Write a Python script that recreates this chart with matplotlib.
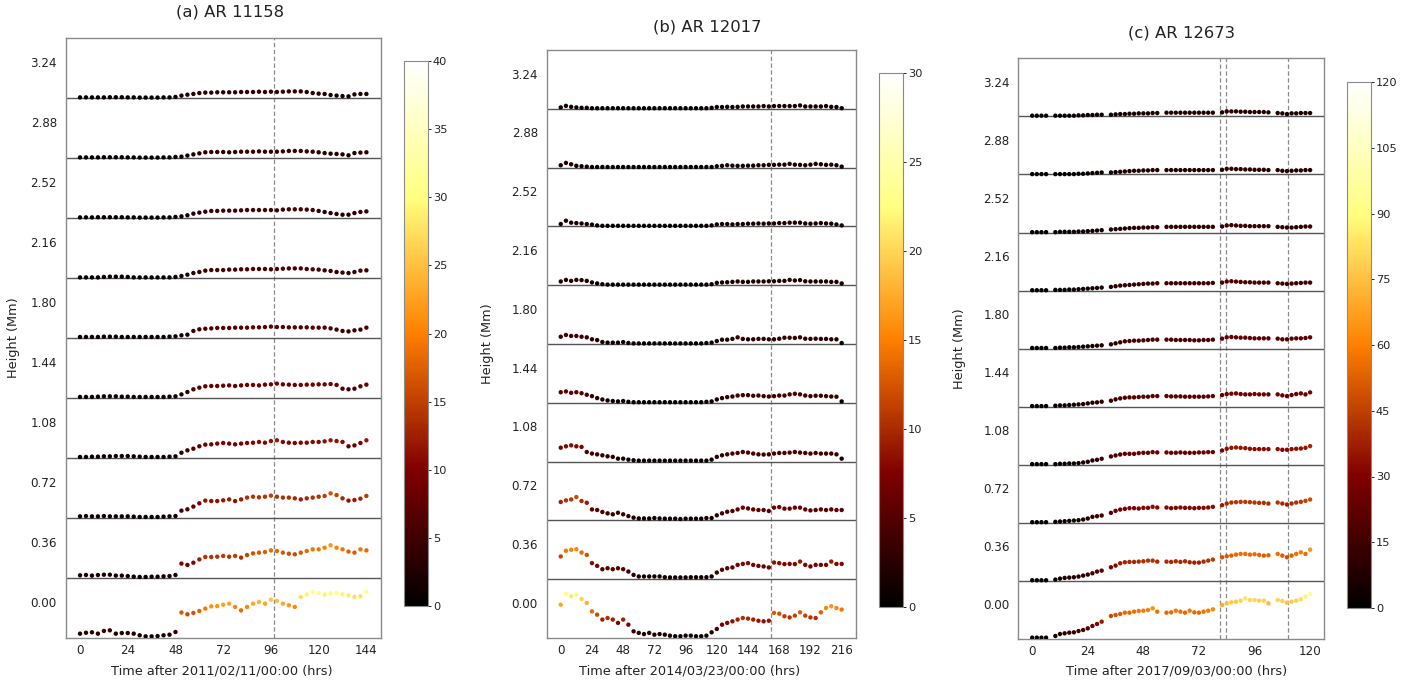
import numpy as np
import matplotlib
matplotlib.use("Agg")
import matplotlib.pyplot as plt

nan = np.nan

# ---------------------------------------------------------------------------
# Data: one series per height level (bottom level first), values in the
# colour-bar units of each region.
# ---------------------------------------------------------------------------
heights = [0.00, 0.36, 0.72, 1.08, 1.44, 1.80, 2.16, 2.52, 2.88, 3.24]
height_labels = [f"{h:.2f}" for h in heights]

# ---- AR 11158 (every 3 h) ----
time_a = list(range(0, 145, 3))
ar11158 = [
    [2.9, 3.5, 3.8, 2.9, 4.7, 5.1, 2.9, 3.3, 3.3, 2.9, 1.8, 1.1, 1.1, 1.3, 1.8, 2.2, 4.0,
     17.0, 15.8, 16.7, 18.0, 19.6, 21.1, 21.3, 22.2, 22.9, 20.7, 18.4, 20.7, 22.9, 24.0, 22.9,
     25.6, 24.7, 22.9, 21.8, 20.7, 27.3, 29.1, 30.7, 30.0, 28.9, 29.6, 30.0, 29.1, 28.4, 27.3,
     27.8, 30.7],
    [1.8, 2.0, 1.6, 2.0, 2.2, 2.2, 1.6, 1.6, 1.3, 0.9, 0.7, 0.7, 0.9, 0.9, 1.1, 1.3, 2.0,
     9.6, 8.7, 10.2, 12.4, 14.0, 14.0, 14.2, 14.7, 14.2, 14.7, 13.6, 15.3, 16.4, 16.9, 17.3,
     18.4, 18.0, 16.9, 16.2, 15.8, 16.9, 18.0, 19.1, 19.1, 20.2, 21.8, 20.2, 19.1, 17.6, 16.9,
     19.1, 18.4],
    [1.1, 1.3, 1.1, 1.1, 1.3, 1.1, 1.1, 1.1, 1.1, 0.9, 0.7, 0.7, 0.7, 0.7, 0.9, 1.1, 1.3,
     4.9, 5.8, 7.6, 9.8, 11.6, 11.3, 11.3, 11.8, 12.4, 11.3, 12.4, 13.6, 14.2, 13.8, 14.2,
     14.9, 14.2, 13.6, 13.6, 13.1, 12.4, 13.1, 13.6, 14.2, 14.7, 16.4, 15.3, 13.1, 11.6, 12.0,
     12.9, 14.7],
    [0.7, 0.7, 0.9, 0.9, 1.1, 1.1, 1.3, 1.3, 1.3, 1.1, 0.9, 0.7, 0.7, 0.7, 0.7, 0.9, 1.1,
     3.5, 5.1, 6.2, 7.8, 8.9, 9.1, 9.6, 10.0, 9.6, 9.1, 9.6, 10.0, 10.2, 10.7, 10.2,
     11.3, 11.8, 10.7, 10.2, 10.0, 10.2, 10.2, 10.7, 10.7, 11.1, 11.8, 11.3, 10.7, 7.8, 8.4,
     10.0, 11.8],
    [0.7, 0.7, 0.7, 0.9, 1.1, 1.1, 1.1, 0.9, 0.9, 0.7, 0.7, 0.7, 0.7, 0.7, 0.7, 0.9, 1.1,
     2.4, 4.0, 5.8, 6.9, 7.8, 8.0, 8.0, 8.2, 8.4, 8.0, 8.4, 8.7, 8.7, 8.4, 8.9,
     9.1, 9.6, 9.1, 8.9, 8.7, 8.7, 8.9, 8.9, 9.1, 9.1, 9.3, 8.7, 6.2, 5.8, 6.2,
     7.8, 8.9],
    [0.7, 0.7, 0.7, 0.7, 0.9, 0.9, 0.9, 0.7, 0.7, 0.7, 0.7, 0.7, 0.7, 0.7, 0.7, 0.9, 1.1,
     1.8, 2.2, 4.7, 5.8, 6.2, 6.4, 6.7, 6.7, 6.7, 6.9, 6.9, 6.9, 7.1, 7.1, 7.3,
     7.6, 7.3, 7.3, 7.1, 7.1, 7.1, 7.1, 6.9, 6.9, 6.9, 6.4, 5.6, 4.7, 4.4, 5.1,
     5.6, 6.9],
    [0.4, 0.4, 0.4, 0.4, 0.7, 0.9, 0.9, 0.9, 0.7, 0.4, 0.4, 0.4, 0.4, 0.4, 0.4, 0.4, 0.7,
     1.3, 2.2, 3.3, 4.0, 4.9, 5.3, 5.3, 5.3, 5.6, 5.6, 5.8, 5.8, 6.0, 6.0, 6.0,
     5.8, 6.0, 6.2, 6.4, 6.4, 6.4, 6.0, 5.8, 5.6, 5.1, 4.7, 4.0, 3.6, 3.3, 4.0,
     4.9, 5.1],
    [0.4, 0.4, 0.4, 0.5, 0.5, 0.5, 0.5, 0.5, 0.4, 0.4, 0.3, 0.3, 0.3, 0.3, 0.4, 0.4, 0.7,
     1.1, 1.8, 2.9, 3.6, 4.2, 4.7, 4.7, 4.9, 4.9, 4.9, 5.1, 5.3, 5.3, 5.3, 5.3,
     5.3, 5.1, 5.6, 5.8, 5.8, 5.8, 5.6, 5.3, 4.7, 4.0, 3.3, 2.7, 2.2, 2.2, 3.3,
     4.0, 4.4],
    [0.4, 0.4, 0.4, 0.4, 0.5, 0.5, 0.5, 0.5, 0.4, 0.4, 0.3, 0.3, 0.3, 0.3, 0.4, 0.4, 0.7,
     0.9, 1.6, 2.4, 3.1, 3.8, 4.0, 4.0, 4.0, 3.8, 4.0, 4.2, 4.2, 4.2, 4.4, 4.2,
     4.2, 4.2, 4.4, 4.7, 4.7, 4.7, 4.4, 4.2, 3.8, 3.3, 2.9, 2.7, 2.4, 1.8, 3.3,
     3.6, 3.8],
    [0.4, 0.4, 0.4, 0.4, 0.4, 0.5, 0.5, 0.5, 0.4, 0.4, 0.3, 0.3, 0.3, 0.3, 0.4, 0.4, 0.7,
     1.6, 2.2, 2.7, 3.3, 3.6, 3.6, 3.8, 3.8, 3.8, 3.8, 4.0, 4.0, 4.0, 4.2, 4.0,
     4.2, 4.0, 4.2, 4.4, 4.4, 4.4, 4.0, 3.3, 2.9, 2.7, 2.0, 1.6, 1.3, 1.1, 2.4,
     2.7, 2.7],
]

# ---- AR 12017 (every 4 h) ----
time_b = list(range(0, 217, 4))
ar12017 = [
    [17.0, 22.6, 21.3, 22.1, 19.9, 17.9, 13.6, 11.9, 9.4, 10.2,
     9.4, 7.7, 9.4, 6.8, 3.4, 2.6, 2.0, 2.6, 1.7, 2.0,
     1.7, 1.2, 0.9, 0.9, 1.2, 1.2, 0.9, 0.9, 1.2, 2.9,
     4.6, 6.8, 7.7, 8.5, 9.4, 10.2, 9.9, 9.4, 8.8, 8.5,
     8.8, 12.8, 12.4, 11.1, 10.5, 11.4, 13.1, 11.4, 10.5, 10.2,
     13.1, 15.3, 16.2, 15.3, 14.5],
    [11.6, 14.5, 15.0, 15.3, 13.6, 12.4, 8.2, 6.8, 5.1, 5.6,
     5.1, 5.6, 5.1, 3.9, 2.2, 1.4, 1.4, 1.4, 1.4, 1.4,
     1.0, 0.9, 0.9, 0.9, 0.9, 1.0, 1.0, 1.0, 1.0, 1.4,
     3.4, 4.8, 5.6, 6.0, 7.3, 7.8, 8.2, 7.3, 6.8, 6.5,
     6.0, 8.5, 8.2, 7.7, 7.8, 7.7, 9.0, 7.3, 6.5, 7.3,
     7.3, 7.3, 9.0, 7.8, 7.8],
    [9.4, 10.2, 10.7, 11.9, 9.9, 9.0, 5.6, 5.3, 4.3, 3.6,
     3.1, 3.9, 3.1, 2.2, 1.4, 1.0, 1.0, 1.0, 1.2, 1.0,
     0.9, 0.9, 0.9, 0.7, 0.9, 0.9, 0.9, 0.9, 1.2, 1.2,
     2.6, 3.6, 4.4, 4.8, 5.6, 6.5, 6.1, 5.6, 5.3, 5.3,
     4.8, 6.5, 6.8, 6.0, 6.0, 6.5, 6.5, 5.6, 5.1, 5.3,
     5.6, 5.3, 5.6, 5.3, 5.3],
    [7.1, 7.8, 8.3, 7.8, 7.5, 4.9, 4.1, 3.7, 3.2, 2.7,
     2.4, 1.5, 1.5, 1.0, 0.7, 0.5, 0.5, 0.5, 0.5, 0.5,
     0.5, 0.5, 0.5, 0.5, 0.5, 0.5, 0.5, 0.5, 0.5, 1.0,
     2.4, 3.2, 3.7, 4.1, 4.4, 4.9, 4.6, 4.1, 3.7, 3.6,
     3.7, 4.1, 4.4, 4.4, 4.6, 4.9, 4.6, 4.4, 4.1, 4.4,
     4.1, 4.1, 4.1, 3.7, 1.5],
    [5.4, 5.8, 5.1, 5.4, 4.9, 4.1, 3.4, 2.4, 1.7, 1.2,
     0.9, 0.7, 0.9, 0.5, 0.3, 0.3, 0.3, 0.3, 0.3, 0.3,
     0.3, 0.3, 0.3, 0.3, 0.3, 0.3, 0.3, 0.3, 0.5, 0.7,
     1.7, 2.4, 2.9, 3.2, 3.7, 3.9, 3.9, 3.6, 3.7, 3.4,
     3.2, 3.4, 3.7, 3.7, 4.3, 4.6, 4.3, 3.7, 3.4, 3.6,
     3.6, 3.4, 3.2, 3.1, 0.7],
    [3.7, 4.6, 4.1, 4.1, 3.7, 3.4, 2.4, 2.0, 1.0, 0.7,
     0.7, 0.7, 1.0, 0.5, 0.3, 0.3, 0.3, 0.3, 0.3, 0.3,
     0.3, 0.3, 0.3, 0.3, 0.3, 0.3, 0.3, 0.3, 0.5, 0.7,
     1.5, 2.2, 2.2, 2.6, 3.4, 2.6, 2.4, 2.4, 2.6, 2.6,
     2.4, 2.4, 2.7, 3.2, 3.2, 3.1, 3.4, 2.7, 2.6, 2.7,
     2.6, 2.6, 2.4, 2.4, 0.5],
    [1.9, 2.7, 2.2, 2.7, 2.6, 2.2, 1.4, 0.9, 0.5, 0.3,
     0.3, 0.3, 0.3, 0.3, 0.3, 0.3, 0.3, 0.3, 0.3, 0.3,
     0.3, 0.3, 0.3, 0.3, 0.3, 0.3, 0.3, 0.3, 0.3, 0.5,
     1.2, 1.4, 1.5, 1.7, 1.9, 1.7, 1.7, 1.9, 1.9, 1.9,
     2.0, 2.0, 2.2, 2.2, 2.7, 2.4, 2.6, 2.0, 1.9, 1.9,
     1.9, 1.9, 1.7, 1.7, 0.9],
    [1.2, 2.9, 1.9, 1.7, 1.5, 1.2, 0.9, 0.5, 0.3, 0.3,
     0.3, 0.3, 0.3, 0.3, 0.3, 0.3, 0.3, 0.3, 0.3, 0.3,
     0.3, 0.3, 0.3, 0.3, 0.3, 0.3, 0.3, 0.3, 0.3, 0.5,
     1.0, 1.2, 1.2, 1.0, 1.2, 1.2, 1.4, 1.4, 1.5, 1.4,
     1.5, 1.5, 1.7, 1.7, 1.9, 1.9, 1.9, 1.5, 1.4, 1.5,
     1.7, 1.5, 1.4, 1.0, 0.5],
    [1.2, 2.4, 1.7, 0.9, 0.7, 0.5, 0.3, 0.3, 0.3, 0.3,
     0.3, 0.3, 0.3, 0.3, 0.3, 0.3, 0.3, 0.3, 0.3, 0.3,
     0.3, 0.3, 0.3, 0.3, 0.3, 0.3, 0.3, 0.3, 0.3, 0.3,
     0.7, 0.9, 1.2, 1.0, 0.9, 0.9, 1.0, 1.0, 1.2, 1.2,
     1.4, 1.4, 1.5, 1.5, 1.9, 1.5, 1.4, 1.2, 1.5, 1.9,
     1.7, 1.4, 1.5, 1.2, 0.5],
    [0.7, 1.5, 1.0, 0.7, 0.5, 0.5, 0.3, 0.3, 0.3, 0.3,
     0.3, 0.3, 0.3, 0.3, 0.3, 0.3, 0.3, 0.3, 0.3, 0.3,
     0.3, 0.3, 0.3, 0.3, 0.3, 0.3, 0.3, 0.3, 0.3, 0.5,
     0.9, 0.9, 1.0, 0.9, 1.0, 1.2, 1.2, 1.2, 1.2, 1.4,
     1.2, 1.4, 1.4, 1.4, 1.4, 1.4, 1.7, 1.2, 1.2, 1.2,
     1.2, 1.4, 1.0, 0.9, 0.3],
]

# ---- AR 12673 (every 2 h, daily data gaps as nan) ----
time_c = list(range(0, 121, 2))
ar12673 = [
    [2.8, 2.8, 2.8, 2.8, nan,
     6.2, 10.3, 11.7, 13.1, 13.8, 16.5, 18.6, 22.0, 26.9, 31.0, 35.8, nan,
     47.5, 49.6, 51.7, 54.4, 54.4, 56.5, 57.9, 58.5, 59.9, 63.4, 56.5, nan,
     54.4, 55.1, 58.5, 56.5, 54.4, 58.5, 55.1, 54.4, 56.5, 58.5, 61.3, nan,
     70.2, 73.7, 75.8, 77.1, 79.2, 84.0, 80.6, 80.6, 79.2, 79.2, 73.7, nan,
     80.6, 78.5, 75.1, 77.1, 79.2, 82.0, 87.5, 93.0],
    [1.4, 1.4, 1.4, 1.4, nan,
     2.8, 4.8, 6.2, 6.9, 7.6, 9.0, 11.0, 13.1, 15.8, 19.3, 21.3, nan,
     28.2, 31.7, 36.5, 38.6, 39.3, 39.3, 39.9, 40.6, 42.0, 42.0, 39.9, nan,
     39.9, 39.3, 40.6, 39.3, 40.6, 38.6, 37.9, 37.9, 39.9, 42.0, 44.1, nan,
     48.9, 51.0, 52.3, 54.4, 55.8, 55.8, 54.4, 55.1, 53.7, 52.3, 53.0, nan,
     55.8, 52.3, 48.9, 52.3, 55.8, 59.2, 55.8, 64.7],
    [1.4, 1.4, 1.4, 1.4, nan,
     2.1, 2.8, 3.4, 4.1, 4.8, 5.5, 6.9, 9.0, 12.4, 13.8, 15.2, nan,
     20.7, 24.8, 27.5, 28.9, 30.3, 30.3, 29.6, 31.0, 31.0, 33.1, 31.7, nan,
     31.7, 30.3, 31.0, 31.7, 31.0, 31.0, 30.3, 31.0, 31.0, 31.7, 33.1, nan,
     36.5, 39.9, 42.0, 42.7, 43.4, 43.4, 42.7, 42.0, 41.3, 41.3, 39.9, nan,
     42.0, 39.9, 37.9, 39.9, 42.0, 43.4, 45.5, 48.2],
    [1.4, 1.4, 1.4, 1.4, nan,
     1.4, 2.1, 2.1, 2.8, 2.8, 3.4, 4.8, 6.2, 9.0, 10.3, 12.4, nan,
     17.2, 19.3, 21.3, 22.7, 22.7, 22.7, 24.1, 24.8, 24.8, 26.2, 25.5, nan,
     25.5, 24.8, 24.8, 25.5, 24.8, 24.8, 24.8, 25.5, 25.5, 26.2, 26.2, nan,
     29.6, 33.1, 35.1, 35.8, 35.1, 34.4, 33.1, 32.4, 32.4, 32.4, 32.4, nan,
     32.4, 31.0, 31.0, 32.4, 33.1, 33.7, 35.1, 38.6],
    [1.4, 1.4, 1.4, 1.4, nan,
     2.1, 2.8, 2.8, 3.4, 4.1, 4.8, 5.5, 6.9, 8.3, 9.0, 10.3, nan,
     12.4, 15.2, 17.2, 18.6, 19.3, 19.3, 20.0, 20.7, 20.7, 22.0, 22.0, nan,
     22.0, 21.3, 21.3, 21.3, 20.7, 20.7, 20.7, 20.7, 20.7, 21.3, 22.0, nan,
     24.1, 26.2, 26.9, 27.5, 26.2, 25.5, 25.5, 26.2, 25.5, 25.5, 25.5, nan,
     25.5, 23.4, 22.0, 24.1, 26.2, 27.5, 25.5, 29.6],
    [1.4, 1.4, 1.4, 1.4, nan,
     1.4, 2.1, 2.1, 2.8, 2.8, 3.4, 4.1, 4.8, 5.5, 6.2, 6.9, nan,
     9.0, 11.0, 13.1, 15.2, 15.8, 16.5, 16.5, 17.2, 17.9, 18.6, 18.6, nan,
     18.6, 18.6, 17.9, 17.9, 17.9, 17.9, 17.2, 17.2, 17.9, 17.9, 18.6, nan,
     20.7, 23.4, 24.1, 23.4, 22.7, 22.7, 22.0, 21.3, 21.3, 21.3, 21.3, nan,
     20.7, 19.3, 19.3, 20.7, 21.3, 21.3, 22.0, 23.4],
    [0.7, 0.7, 0.7, 0.7, nan,
     1.4, 1.4, 1.4, 2.1, 2.1, 2.8, 3.4, 4.1, 4.8, 5.5, 6.2, nan,
     7.6, 9.0, 10.3, 11.0, 11.7, 12.4, 13.1, 13.8, 14.5, 14.5, 15.2, nan,
     15.2, 15.2, 15.2, 15.2, 15.2, 15.2, 15.2, 15.2, 15.2, 15.2, 15.8, nan,
     16.5, 18.6, 19.3, 18.6, 17.9, 17.2, 17.2, 16.5, 16.5, 16.5, 16.5, nan,
     15.2, 14.5, 13.8, 14.5, 15.2, 15.8, 16.5, 16.5],
    [0.7, 0.7, 0.7, 0.7, nan,
     0.7, 1.4, 1.4, 1.4, 1.4, 2.1, 2.1, 2.8, 3.4, 4.1, 4.8, nan,
     6.2, 6.9, 7.6, 8.3, 9.0, 9.6, 9.6, 10.3, 10.3, 11.0, 11.0, nan,
     11.7, 11.7, 11.7, 11.7, 11.7, 11.7, 11.7, 11.7, 11.7, 11.7, 11.7, nan,
     12.4, 14.5, 15.2, 14.5, 13.8, 13.8, 13.1, 13.1, 13.1, 13.1, 13.1, nan,
     11.7, 11.0, 10.3, 10.3, 11.0, 11.7, 12.4, 12.4],
    [0.7, 0.7, 0.7, 0.7, nan,
     0.7, 0.7, 0.7, 0.7, 0.7, 1.4, 1.4, 2.1, 2.8, 3.4, 4.1, nan,
     4.1, 4.8, 5.5, 6.2, 6.9, 7.6, 7.6, 8.3, 8.3, 9.0, 9.0, nan,
     9.0, 9.0, 9.0, 9.0, 9.0, 9.0, 9.0, 9.0, 9.0, 9.0, 9.0, nan,
     9.6, 11.7, 11.7, 11.0, 11.0, 10.3, 10.3, 9.6, 9.6, 9.6, 9.0, nan,
     9.0, 7.6, 6.9, 7.6, 8.3, 8.3, 9.0, 9.0],
    [1.4, 1.4, 1.4, 1.4, nan,
     1.4, 1.4, 1.4, 1.4, 1.4, 2.1, 2.1, 2.8, 2.8, 3.4, 3.4, nan,
     3.4, 4.1, 4.8, 4.8, 5.5, 5.5, 6.2, 6.2, 6.2, 6.9, 6.9, nan,
     7.6, 7.6, 7.6, 7.6, 7.6, 7.6, 7.6, 7.6, 7.6, 7.6, 7.6, nan,
     8.3, 10.3, 10.3, 10.3, 9.6, 9.6, 9.0, 9.0, 9.0, 9.0, 8.3, nan,
     6.9, 6.2, 4.8, 6.2, 6.2, 6.9, 6.9, 6.9],
]

titles = ["(a) AR 11158", "(b) AR 12017", "(c) AR 12673"]
xlabels = ["Time after 2011/02/11/00:00 (hrs)",
           "Time after 2014/03/23/00:00 (hrs)",
           "Time after 2017/09/03/00:00 (hrs)"]
vmax_list = [40, 30, 120]
cbar_ticks = [list(range(0, 41, 5)), list(range(0, 31, 5)), list(range(0, 121, 15))]
xticks_list = [list(range(0, 145, 24)), list(range(0, 217, 24)), list(range(0, 121, 24))]
flare_times = [[97.7], [161.8], [81.0, 83.8, 110.3]]

# ---------------------------------------------------------------------------
# Layout (pixel boxes: left, top, right, bottom)
# ---------------------------------------------------------------------------
W, H = 1422, 685
fig = plt.figure(figsize=(W / 100, H / 100), dpi=100)
TXT = "#222222"


def frac(box):
    l, t, r, b = box
    return [l / W, 1 - b / H, (r - l) / W, (b - t) / H]


axes_boxes = [(65.7, 38, 380.7, 638), (546.7, 50, 855.7, 638), (1018.3, 58.3, 1324, 639)]
cbar_boxes = [(404, 61, 428, 606), (879, 73, 903, 607), (1347, 82, 1371, 608)]
title_pos = [(229.5, 12.3), (707.5, 26.7), (1181.7, 33.3)]
xlabel_cx = [222, 690, 1176.7]
ylabel_x = [20.5, 493.5, 966.5]

panels = [(time_a, ar11158), (time_b, ar12017), (time_c, ar12673)]

for k, (times, levels) in enumerate(panels):
    ax = fig.add_axes(frac(axes_boxes[k]))
    S = vmax_list[k]
    t = np.asarray(times, dtype=float)
    for i, vals in enumerate(levels):
        v = np.asarray(vals, dtype=float)
        sc = ax.scatter(t, i * S + v, c=v, cmap="afmhot", vmin=0, vmax=S,
                        s=10, linewidths=0, zorder=3)
    ax.set_ylim(0, len(levels) * S)
    ax.margins(x=0.05)
    for i in range(1, len(levels)):
        ax.axhline(i * S, color="#555555", lw=1.0, zorder=2)
    for ft in flare_times[k]:
        ax.axvline(ft, color="#8a8a8a", lw=0.9, ls=(0, (3.5, 2.0)), zorder=1)

    ax.set_yticks([(i + 0.6) * S for i in range(len(levels))])
    ax.set_yticklabels(height_labels)
    ax.set_xticks(xticks_list[k])
    ax.tick_params(axis="both", length=0, colors=TXT, labelsize=8.6)
    ax.tick_params(axis="y", pad=6.3)
    ax.tick_params(axis="x", pad=4.5)
    for sp in ax.spines.values():
        sp.set_color("#8a8a8a")
        sp.set_linewidth(1.0)

    l, tp, r, b = axes_boxes[k]
    ax.set_xlabel(xlabels[k], fontsize=9.3, color=TXT)
    ax.xaxis.set_label_coords((xlabel_cx[k] - l) / (r - l), -(665 - b) / (b - tp))
    ax.set_ylabel("Height (Mm)", fontsize=9.3, color=TXT)
    ax.yaxis.set_label_coords((ylabel_x[k] - l) / (r - l), 0.5)

    fig.text(title_pos[k][0] / W, 1 - title_pos[k][1] / H, titles[k],
             ha="center", va="center", fontsize=11.8, color=TXT)

    cax = fig.add_axes(frac(cbar_boxes[k]))
    cb = fig.colorbar(sc, cax=cax, ticks=cbar_ticks[k])
    cb.outline.set_edgecolor("#8a8a8a")
    cb.outline.set_linewidth(0.8)
    cax.tick_params(length=2.0, width=0.7, pad=1.5, labelsize=8.2, colors=TXT)

fig.savefig("out.png", dpi=100)
